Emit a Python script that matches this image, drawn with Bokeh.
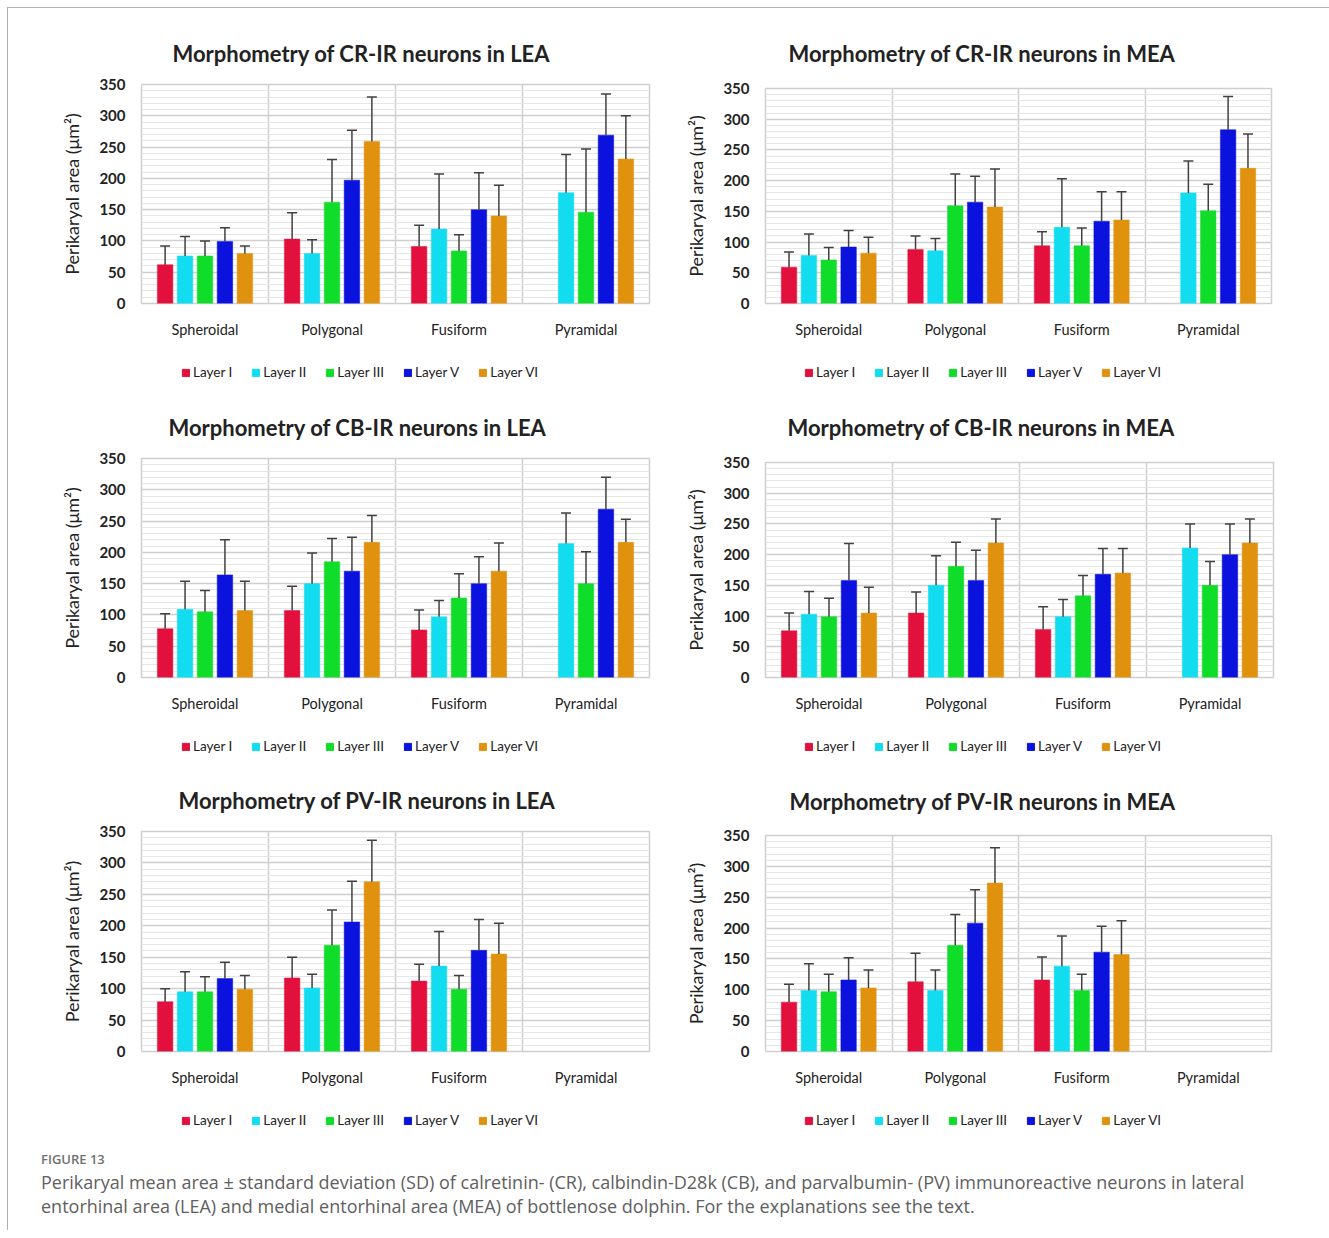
from bokeh.plotting import figure
from bokeh.models import (ColumnDataSource, Range1d, FixedTicker, Whisker, TeeHead,
                          Legend, LegendItem, Div)
from bokeh.layouts import column, row
from bokeh.embed import file_html
from bokeh.resources import INLINE

categories = ["Spheroidal", "Polygonal", "Fusiform", "Pyramidal"]
layers = ["Layer I", "Layer II", "Layer III", "Layer V", "Layer VI"]
layer_colors = ["#E3103D", "#12DDF0", "#10DD2A", "#0C12DE", "#E0920F"]
y_ticks = [0, 50, 100, 150, 200, 250, 300, 350]

# rows = layers (I, II, III, V, VI), columns = categories; None = not present
cr_lea_mean = [[62, 103, 91, None], [76, 80, 119, 177], [76, 162, 84, 146], [99, 197, 150, 269], [80, 259, 140, 231]]
cr_lea_sd = [[30, 42, 34, None], [31, 22, 88, 61], [24, 68, 26, 101], [22, 80, 59, 66], [12, 71, 49, 69]]

cr_mea_mean = [[59, 88, 94, None], [78, 86, 124, 180], [71, 159, 94, 151], [92, 165, 134, 283], [82, 157, 136, 220]]
cr_mea_sd = [[25, 22, 23, None], [35, 20, 79, 52], [20, 52, 29, 43], [27, 42, 48, 54], [26, 62, 46, 56]]

cb_lea_mean = [[78, 107, 76, None], [109, 150, 97, 214], [105, 185, 127, 150], [164, 170, 150, 269], [107, 216, 170, 216]]
cb_lea_sd = [[24, 39, 32, None], [45, 49, 26, 49], [34, 37, 39, 51], [56, 54, 43, 51], [47, 43, 45, 37]]

cb_mea_mean = [[76, 105, 78, None], [103, 150, 99, 211], [99, 181, 133, 150], [158, 158, 168, 200], [105, 219, 170, 219]]
cb_mea_sd = [[29, 34, 37, None], [37, 48, 28, 39], [30, 39, 33, 39], [60, 49, 42, 50], [42, 39, 40, 39]]

pv_lea_mean = [[79, 117, 112, None], [95, 101, 136, None], [95, 169, 99, None], [116, 206, 161, None], [99, 270, 155, None]]
pv_lea_sd = [[21, 33, 27, None], [32, 22, 55, None], [24, 56, 22, None], [26, 65, 49, None], [22, 66, 49, None]]

pv_mea_mean = [[80, 113, 116, None], [99, 99, 138, None], [97, 172, 99, None], [116, 208, 161, None], [103, 273, 157, None]]
pv_mea_sd = [[29, 46, 37, None], [43, 33, 49, None], [28, 50, 26, None], [36, 54, 42, None], [29, 57, 55, None]]

FONT = "Lato"
DARK = "#222222"
GRID = "#cfcfcf"
BAR_PITCH = 0.157
BAR_WIDTH = 0.122


def make_legend(sources, width, height, x, y):
    # legend strip under a chart; its proxy bars share the chart's data but fall
    # outside this strip's y range, so only the legend entries are visible
    lf = figure(width=width, height=height, output_backend="svg", toolbar_location=None,
                x_axis_location=None, y_axis_location=None, min_border=0,
                x_range=Range1d(0, len(categories)), y_range=Range1d(2000, 2350))
    lf.outline_line_color = None
    lf.grid.visible = False
    items = []
    for layer, color, src in zip(layers, layer_colors, sources):
        r = lf.vbar(x="x", top="top", bottom=0, width=BAR_WIDTH, source=src,
                    fill_color=color, line_color=color)
        items.append(LegendItem(label=layer, renderers=[r]))
    leg = Legend(items=items, orientation="horizontal", location=(x, y),
                 glyph_width=9, glyph_height=9, label_height=14,
                 label_text_font=FONT, label_text_font_size="13.5px", label_text_color=DARK,
                 label_standoff=3, spacing=19, padding=2, margin=0,
                 border_line_color=None, background_fill_alpha=0)
    lf.add_layout(leg, "center")
    return lf


def make_panel(title, means, sds, width, height, b_left, b_right, b_top, b_bottom,
               title_left, title_standoff, leg_h, leg_x, leg_y):
    p = figure(width=width, height=height, x_range=Range1d(0, len(categories)),
               y_range=Range1d(0, 350), output_backend="svg", toolbar_location=None,
               min_border_left=b_left, min_border_right=b_right,
               min_border_top=b_top, min_border_bottom=b_bottom)
    p.title.text = title
    p.title.text_font = FONT
    p.title.text_font_size = "22px"
    p.title.text_font_style = "bold"
    p.title.text_color = DARK
    p.title.align = "left"
    p.title.offset = title_left
    p.title.standoff = title_standoff

    p.outline_line_color = GRID
    p.outline_line_width = 1.5

    p.xgrid.ticker = FixedTicker(ticks=list(range(1, len(categories))))
    p.xgrid.grid_line_color = GRID
    p.xgrid.grid_line_width = 1.5
    p.ygrid.ticker = FixedTicker(ticks=y_ticks, minor_ticks=list(range(0, 351, 10)))
    p.ygrid.grid_line_color = GRID
    p.ygrid.grid_line_width = 1.5
    p.ygrid.minor_grid_line_color = "#e6e6e6"
    p.ygrid.minor_grid_line_width = 1

    centers = [i + 0.5 for i in range(len(categories))]
    p.xaxis.ticker = FixedTicker(ticks=centers)
    p.xaxis.major_label_overrides = {c: name for c, name in zip(centers, categories)}
    p.yaxis.ticker = FixedTicker(ticks=y_ticks)
    for ax in (p.xaxis, p.yaxis):
        ax.axis_line_color = None
        ax.major_tick_line_color = None
        ax.minor_tick_line_color = None
        ax.major_tick_out = 0
        ax.major_tick_in = 0
        ax.minor_tick_out = 0
        ax.minor_tick_in = 0
        ax.major_label_text_font = FONT
        ax.major_label_text_color = DARK
    p.xaxis.major_label_text_font_size = "14.5px"
    p.xaxis.major_label_standoff = 17
    p.yaxis.major_label_text_font_size = "15px"
    p.yaxis.major_label_text_font_style = "bold"
    p.yaxis.major_label_standoff = 16
    p.yaxis.axis_label = "Perikaryal area (\u03bcm\u00b2)"
    p.yaxis.axis_label_text_font = FONT
    p.yaxis.axis_label_text_font_size = "18px"
    p.yaxis.axis_label_text_font_style = "normal"
    p.yaxis.axis_label_text_color = DARK
    p.yaxis.axis_label_standoff = 13

    sources = []
    for j, (layer, color) in enumerate(zip(layers, layer_colors)):
        off = (j - 2) * BAR_PITCH
        xs, tops, uppers = [], [], []
        for i, (m, s) in enumerate(zip(means[j], sds[j])):
            if m is None:
                continue
            xs.append(centers[i] + off)
            tops.append(m)
            uppers.append(m + s)
        src = ColumnDataSource(data=dict(x=xs, top=tops, upper=uppers))
        sources.append(src)
        p.vbar(x="x", top="top", bottom=0, width=BAR_WIDTH, source=src,
               fill_color=color, line_color=color, line_width=0.5)
        w = Whisker(source=src, base="x", lower="top", upper="upper", dimension="height",
                    line_color="#404040", line_width=1.5, level="overlay",
                    upper_head=TeeHead(size=10, line_color="#404040", line_width=1.5),
                    lower_head=None)
        p.add_layout(w)

    lf = make_legend(sources, width, leg_h, leg_x, leg_y)
    return column(p, lf)


LW, RW = 665, 648
# args: width, chart height, border left/right/top/bottom, title offset, title standoff,
#       legend strip height, legend x, legend y
c1 = make_panel("Morphometry of CR-IR neurons in LEA", cr_lea_mean, cr_lea_sd, LW, 345, 133, 24, 76, 50, 31, 36, 32, 40, 5)
c2 = make_panel("Morphometry of CR-IR neurons in MEA", cr_mea_mean, cr_mea_sd, RW, 345, 92, 50, 80, 50, 23, 43, 32, 39, 5)
c3 = make_panel("Morphometry of CB-IR neurons in LEA", cb_lea_mean, cb_lea_sd, LW, 342, 133, 24, 73, 50, 27, 36, 33, 40, 6)
c4 = make_panel("Morphometry of CB-IR neurons in MEA", cb_mea_mean, cb_mea_sd, RW, 342, 92, 48, 77, 50, 22, 43, 33, 39, 6)
c5 = make_panel("Morphometry of PV-IR neurons in LEA", pv_lea_mean, pv_lea_sd, LW, 341, 133, 24, 71, 50, 37, 35, 39, 40, 12)
c6 = make_panel("Morphometry of PV-IR neurons in MEA", pv_mea_mean, pv_mea_sd, RW, 341, 92, 50, 75, 50, 24, 42, 39, 39, 12)

caption = Div(text=(
    '<div style="margin-left:28px;padding-top:7px;font-family:\'Open Sans\';white-space:nowrap;">'
    '<div style="font-size:13px;font-weight:600;color:#707070;line-height:14px;margin-bottom:4px;">FIGURE 13</div>'
    '<div style="font-size:18px;color:#606060;line-height:24px;">'
    'Perikaryal mean area \u00b1 standard deviation (SD) of calretinin- (CR), calbindin-D28k (CB), '
    'and parvalbumin- (PV) immunoreactive neurons in lateral<br>'
    'entorhinal area (LEA) and medial entorhinal area (MEA) of bottlenose dolphin. '
    'For the explanations see the text.</div></div>'), width=LW + RW, height=80)

layout = column(row(c1, c2), row(c3, c4), row(c5, c6), caption,
                styles={"margin-left": "7px", "margin-top": "7px",
                        "border-top": "1px solid #b0b0b0", "border-left": "1px solid #b0b0b0"})

open("out.html", "w").write(file_html(layout, INLINE))
